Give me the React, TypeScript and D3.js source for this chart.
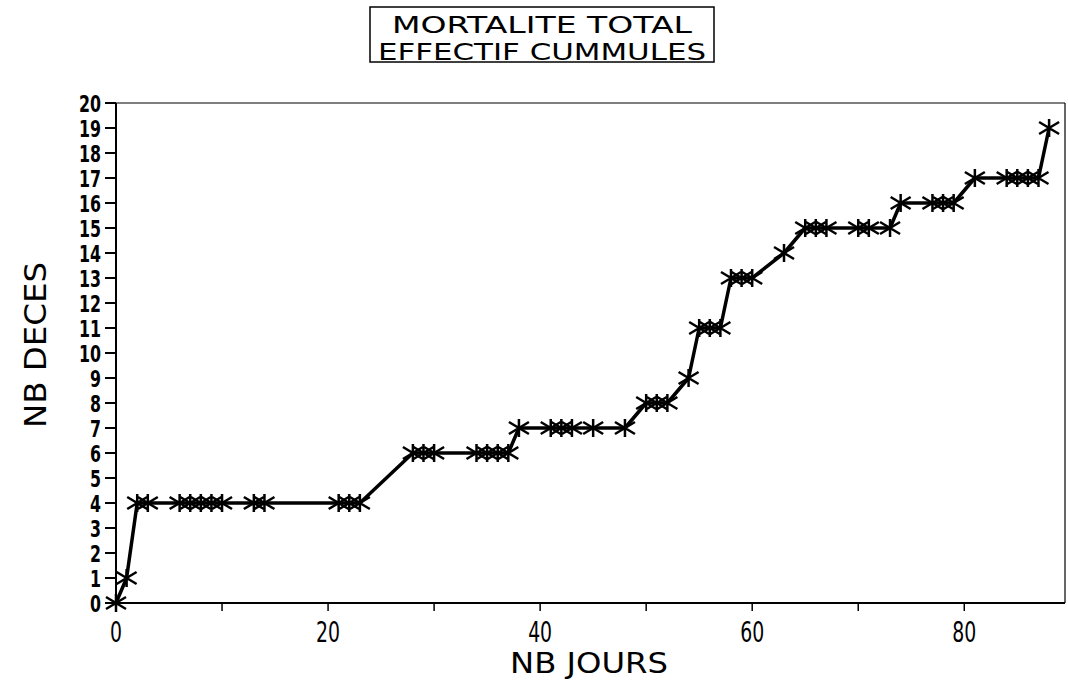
import React, { useRef, useEffect } from "react";
import * as d3 from "d3";

// NB JOURS (days) and NB DECES (cumulative deaths)
const days: number[] = [0, 1, 2, 3, 6, 7, 8, 9, 10, 13, 14, 21, 22, 23, 28, 29, 30, 34, 35, 36, 37, 38, 41, 42, 43, 45, 48, 50, 51, 52, 54, 55, 56, 57, 58, 59, 60, 63, 65, 66, 67, 70, 71, 73, 74, 77, 78, 79, 81, 84, 85, 86, 87, 88];
const deaths: number[] = [0, 1, 4, 4, 4, 4, 4, 4, 4, 4, 4, 4, 4, 4, 6, 6, 6, 6, 6, 6, 6, 7, 7, 7, 7, 7, 7, 8, 8, 8, 9, 11, 11, 11, 13, 13, 13, 14, 15, 15, 15, 15, 15, 15, 16, 16, 16, 16, 17, 17, 17, 17, 17, 19];
const xTickLabels: number[] = [0, 20, 40, 60, 80];
const xMinorTicks: number[] = [0, 10, 20, 30, 40, 50, 60, 70, 80];
const yTickLabels: number[] = d3.range(0, 21);
const titleLines: string[] = ["MORTALITE TOTAL", "EFFECTIF CUMMULES"];

const font = "'DejaVu Sans', sans-serif";

const App = () => {
    const canvas = useRef<SVGSVGElement>(null);

    const W = 1068;
    const H = 681;
    const left = 116, right = 1065, top = 103, bottom = 603;

    useEffect(() => {
        const svg = d3.select(canvas.current);
        svg.selectAll("*").remove();

        const xScale = d3.scaleLinear().domain([0, 89.5]).range([left, right]);
        const yScale = d3.scaleLinear().domain([0, 20]).range([bottom, top]);

        // title box
        svg.append("rect")
            .attr("x", 370).attr("y", 7).attr("width", 344).attr("height", 55)
            .attr("fill", "none").attr("stroke", "#000").attr("stroke-width", 1.5);
        svg.selectAll("text.title")
            .data(titleLines)
            .enter().append("text")
            .attr("class", "title")
            .attr("x", 542)
            .attr("y", (d, i) => 33 + i * 27)
            .attr("text-anchor", "middle")
            .attr("font-family", font)
            .attr("font-size", 23)
            .attr("textLength", (d, i) => (i === 0 ? 300 : 328))
            .attr("lengthAdjust", "spacingAndGlyphs")
            .text(d => d);

        // frame
        svg.append("line").attr("x1", left).attr("x2", right).attr("y1", top).attr("y2", top)
            .attr("stroke", "#000").attr("stroke-width", 1.2);
        svg.append("line").attr("x1", right).attr("x2", right).attr("y1", top).attr("y2", bottom)
            .attr("stroke", "#000").attr("stroke-width", 1.2);
        svg.append("line").attr("x1", left).attr("x2", left).attr("y1", top).attr("y2", bottom)
            .attr("stroke", "#000").attr("stroke-width", 2);
        svg.append("line").attr("x1", left).attr("x2", right).attr("y1", bottom).attr("y2", bottom)
            .attr("stroke", "#000").attr("stroke-width", 2);

        // y ticks
        svg.selectAll("line.yt")
            .data(yTickLabels)
            .enter().append("line")
            .attr("x1", left - 11).attr("x2", left)
            .attr("y1", d => yScale(d)).attr("y2", d => yScale(d))
            .attr("stroke", "#000").attr("stroke-width", 2);
        svg.selectAll("text.yl")
            .data(yTickLabels)
            .enter().append("text")
            .attr("class", "yl")
            .attr("x", 101)
            .attr("y", d => yScale(d) + 8.5)
            .attr("text-anchor", "end")
            .attr("font-family", font)
            .attr("font-weight", "bold")
            .attr("font-size", 23)
            .attr("textLength", d => String(d).length * 11)
            .attr("lengthAdjust", "spacingAndGlyphs")
            .text(d => d);

        // x ticks
        svg.selectAll("line.xt")
            .data(xMinorTicks)
            .enter().append("line")
            .attr("x1", d => xScale(d)).attr("x2", d => xScale(d))
            .attr("y1", bottom).attr("y2", bottom + 8)
            .attr("stroke", "#000").attr("stroke-width", 1.5);
        svg.selectAll("text.xl")
            .data(xTickLabels)
            .enter().append("text")
            .attr("x", d => xScale(d))
            .attr("y", 642)
            .attr("text-anchor", "middle")
            .attr("font-family", font)
            .attr("font-size", 28)
            .attr("textLength", d => String(d).length * 12)
            .attr("lengthAdjust", "spacingAndGlyphs")
            .text(d => d);

        // axis titles
        svg.append("text")
            .attr("x", 589).attr("y", 673)
            .attr("text-anchor", "middle")
            .attr("font-family", font)
            .attr("font-size", 29)
            .attr("textLength", 158)
            .attr("lengthAdjust", "spacingAndGlyphs")
            .text("NB JOURS");
        svg.append("text")
            .attr("transform", "translate(46,345) rotate(-90)")
            .attr("text-anchor", "middle")
            .attr("font-family", font)
            .attr("font-size", 30)
            .attr("textLength", 166)
            .attr("lengthAdjust", "spacingAndGlyphs")
            .text("NB DECES");

        // line
        const pts: [number, number][] = days.map((d, i) => [d, deaths[i]]);
        const line = d3.line<[number, number]>()
            .x(d => xScale(d[0]))
            .y(d => yScale(d[1]));
        svg.append("path")
            .datum(pts)
            .attr("d", line)
            .attr("fill", "none")
            .attr("stroke", "#000")
            .attr("stroke-width", 3.5)
            .attr("stroke-linejoin", "round");

        // asterisk markers
        const star = "M0,-9L0,9M-10,-6L10,6M-10,6L10,-6";
        svg.selectAll("path.mk")
            .data(pts)
            .enter().append("path")
            .attr("class", "mk")
            .attr("transform", d => "translate(" + xScale(d[0]) + "," + yScale(d[1]) + ")")
            .attr("d", star)
            .attr("fill", "none")
            .attr("stroke", "#000")
            .attr("stroke-width", 2.5);
    });

    return (
        <svg ref={canvas} width={W} height={H} style={{ position: "absolute", left: 0, top: 0, background: "#fff" }}></svg>
    );
}

export default App;
